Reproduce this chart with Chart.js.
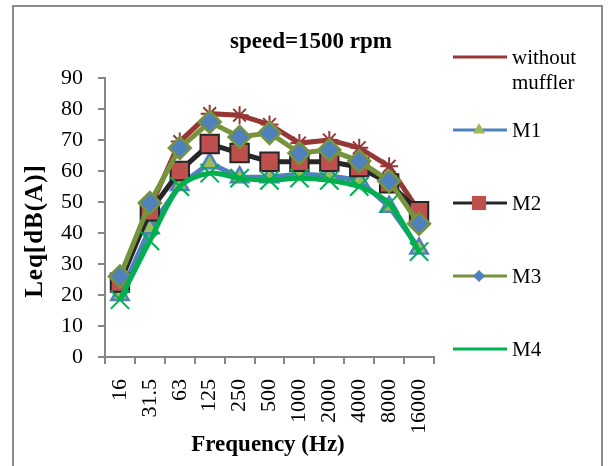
<!DOCTYPE html>
<html>
<head>
<meta charset="utf-8">
<script src="https://cdn.jsdelivr.net/npm/chart.js@4.4.1/dist/chart.umd.min.js"></script>
<style>
  body { margin: 0; background: #fff; }
  canvas { display: block; }
</style>
</head>
<body>
<canvas id="myChart" width="608" height="466"></canvas>
<script>
// data
const freqLabels = ['16', '31.5', '63', '125', '250', '500', '1000', '2000', '4000', '8000', '16000'];
const withoutMuffler = [25, 48, 69.5, 78.5, 78, 75, 69, 70, 67.5, 61.5, 47];
const m1 = [20, 41.5, 55.5, 62.5, 58, 58, 59, 58.5, 57, 48.5, 35];
const m2 = [24, 47, 60, 68.7, 65.8, 63, 63, 63, 61.3, 56, 47];
const m3 = [26, 49.7, 67.4, 75.8, 71, 72.3, 65.8, 66.8, 63.2, 56.8, 43];
const m4 = [18.5, 37.5, 55, 59.3, 57.7, 57, 57.7, 57, 55, 49.5, 34];
const legendNames = [['without', 'muffler'], ['M1'], ['M2'], ['M3'], ['M4']];

const serif = "'Liberation Serif', 'Times New Roman', serif";
const axisGray = '#868686';

// frame, titles and the legend on the right
const extras = {
    id: 'extras',
    afterDraw(chart) {
        const c = chart.ctx;
        c.save();
        c.strokeStyle = '#8c8c8c';
        c.lineWidth = 2;
        c.strokeRect(13, 6, 589, 470);

        c.fillStyle = '#000';
        c.textAlign = 'center';
        c.textBaseline = 'middle';
        c.font = 'bold 23px ' + serif;
        c.fillText('speed=1500 rpm', 311, 42);
        c.fillText('Frequency (Hz)', 268, 445);

        c.save();
        c.translate(36, 231);
        c.rotate(-Math.PI / 2);
        c.font = 'bold 25px ' + serif;
        c.letterSpacing = '1px';
        c.fillText('Leq[dB(A)]', 0, 0);
        c.restore();

        // legend
        const rows = [57, 130, 203, 276, 349];
        chart.data.datasets.forEach((ds, i) => {
            const y = rows[i];
            c.strokeStyle = ds.borderColor;
            c.lineWidth = 3;
            c.beginPath();
            c.moveTo(453, y);
            c.lineTo(507, y);
            c.stroke();
            c.fillStyle = ds.pointBackgroundColor;
            c.strokeStyle = ds.pointBorderColor;
            c.lineWidth = 2;
            Chart.helpers.drawPoint(c, {pointStyle: ds.pointStyle, radius: ds.legendRadius, rotation: 0}, 479, y);
            c.fillStyle = '#000';
            c.textAlign = 'left';
            c.font = '21px ' + serif;
            legendNames[i].forEach((t, k) => c.fillText(t, 512, y + 1 + k * 25));
        });
        c.restore();
    }
};

const ctx = document.getElementById('myChart');

theChart = new Chart(ctx, {
    type: 'line',
    data: {
        labels: freqLabels,
        datasets: [{
            label: 'without muffler',
            data: withoutMuffler,
            borderColor: '#953735',
            borderWidth: 5,
            pointStyle: 'star',
            pointRadius: 9,
            legendRadius: 6,
            pointBorderWidth: 2,
            pointBackgroundColor: '#953735',
            pointBorderColor: '#953735',
            order: 5
        },
        {
            label: 'M1',
            data: m1,
            borderColor: '#4F81BD',
            borderWidth: 5,
            pointStyle: 'triangle',
            pointRadius: 10,
            legendRadius: 7,
            pointBorderWidth: 2.5,
            pointBackgroundColor: '#9BBB59',
            pointBorderColor: '#4F81BD',
            order: 4
        },
        {
            label: 'M2',
            data: m2,
            borderColor: '#262626',
            borderWidth: 5,
            pointStyle: 'rect',
            pointRadius: 13,
            legendRadius: 10,
            pointBorderWidth: 2,
            pointBackgroundColor: '#C0504D',
            pointBorderColor: '#262626',
            order: 3
        },
        {
            label: 'M3',
            data: m3,
            borderColor: '#77933C',
            borderWidth: 5,
            pointStyle: 'rectRot',
            pointRadius: 11,
            legendRadius: 6,
            pointBorderWidth: 2.5,
            pointBackgroundColor: '#4F81BD',
            pointBorderColor: '#77933C',
            order: 2
        },
        {
            label: 'M4',
            data: m4,
            borderColor: '#00B050',
            borderWidth: 5,
            pointStyle: 'crossRot',
            pointRadius: 13,
            legendRadius: 9,
            pointBorderWidth: 2,
            pointBackgroundColor: '#00B050',
            pointBorderColor: '#00B050',
            tension: 0.3,
            order: 1
        }]
    },
    options: {
        responsive: false,
        animation: false,
        layout: {
            padding: {left: 14, top: 78, right: 174, bottom: 8}
        },
        plugins: {
            legend: { display: false },
            title: { display: false },
            tooltip: { enabled: false }
        },
        scales: {
            x: {
                offset: true,
                grid: {
                    offset: true,
                    drawOnChartArea: false,
                    tickLength: 7,
                    color: axisGray,
                    lineWidth: 2
                },
                border: { color: axisGray, width: 2 },
                ticks: {
                    minRotation: 90,
                    maxRotation: 90,
                    padding: 15,
                    color: '#000',
                    font: { family: serif, size: 22 }
                },
                afterFit(scale) { scale.height = 101; }
            },
            y: {
                min: 0,
                max: 90,
                grid: {
                    drawOnChartArea: false,
                    tickLength: 7,
                    color: axisGray,
                    lineWidth: 2
                },
                border: { color: axisGray, width: 2 },
                ticks: {
                    stepSize: 10,
                    padding: 15,
                    color: '#000',
                    font: { family: serif, size: 22 }
                },
                afterFit(scale) { scale.width = 91; }
            }
        }
    },
    plugins: [extras]
});
</script>
</body>
</html>
